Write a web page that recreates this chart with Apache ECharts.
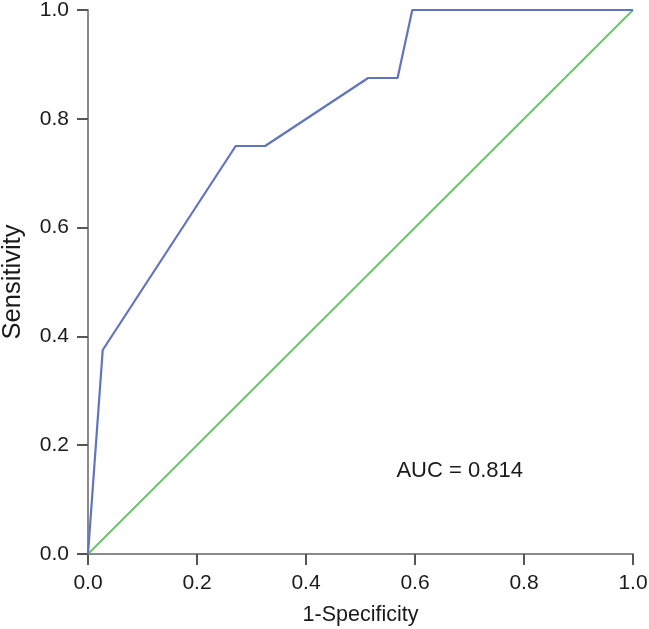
<!DOCTYPE html>
<html>
<head>
<meta charset="utf-8">
<script src="https://cdn.jsdelivr.net/npm/echarts@6/dist/echarts.min.js"></script>
<style>html,body{margin:0;padding:0;background:#fff;}#c{width:649px;height:629px;}</style>
</head>
<body>
<div id="c"></div>
<script>
var specificityComplement = [0, 0.027, 0.271, 0.325, 0.514, 0.568, 0.595, 1.0];
var sensitivity = [0, 0.375, 0.75, 0.75, 0.875, 0.875, 1.0, 1.0];
var refX = [0, 1];
var refY = [0, 1];
var aucLabel = 'AUC = 0.814';
var aucPos = [0.565, 0.153];

var FONT = 'Liberation Sans';
var chart = echarts.init(document.getElementById('c'), null, {renderer: 'canvas'});
function axisCommon(name, gap, nameSize) {
  return {
    type: 'value', min: 0, max: 1, interval: 0.2,
    name: name, nameLocation: 'middle', nameGap: gap,
    nameTextStyle: {fontFamily: FONT, fontSize: nameSize, color: '#1a1a1a'},
    axisLine: {show: true, onZero: false, lineStyle: {color: '#8a8a8a', width: 2}},
    axisTick: {show: true, inside: false, length: 11, lineStyle: {color: '#555', width: 2}},
    axisLabel: {fontFamily: FONT, fontSize: 21, color: '#1a1a1a', margin: 19,
      formatter: function (v) { return v.toFixed(1); }},
    splitLine: {show: false}
  };
}
var roc = specificityComplement.map(function (x, i) { return [x, sensitivity[i]]; });
var ref = refX.map(function (x, i) { return [x, refY[i]]; });
chart.setOption({
  animation: false,
  backgroundColor: '#ffffff',
  grid: {left: 88, right: 16, top: 10, bottom: 75, containLabel: false, outerBoundsMode: 'none'},
  xAxis: axisCommon('1-Specificity', 50, 21.5),
  yAxis: axisCommon('Sensitivity', 62.5, 25.5),
  series: [
    {type: 'line', data: ref, symbol: 'none', lineStyle: {color: '#6cc46c', width: 2}, z: 2},
    {type: 'line', data: roc, symbol: 'none', lineStyle: {color: '#6074c0', width: 2.2}, z: 3},
    {type: 'scatter', data: [aucPos], symbolSize: 1, itemStyle: {opacity: 0}, silent: true,
      label: {show: true, position: 'right', distance: 0, formatter: aucLabel,
        fontFamily: FONT, fontSize: 22, color: '#1a1a1a', opacity: 1}}
  ]
});
</script>
</body>
</html>
